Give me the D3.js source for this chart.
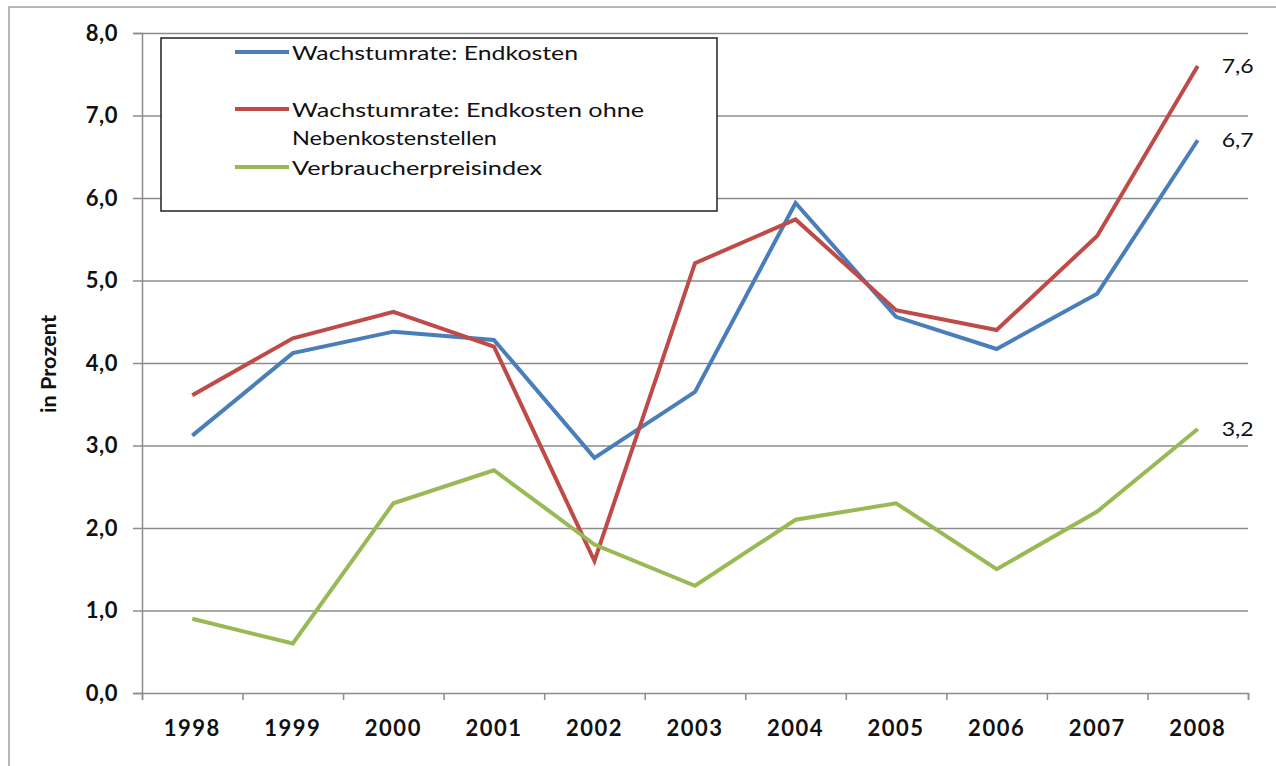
<!DOCTYPE html>
<html>
<head>
<meta charset="utf-8">
<script src="https://cdn.jsdelivr.net/npm/d3@7"></script>
<style>
  html, body { margin: 0; padding: 0; background: #fff; }
  svg { display: block; font-family: Lato, "Open Sans", sans-serif; }
</style>
</head>
<body>
<svg id="chart" width="1276" height="766"></svg>
<script>
// Jahre und Wachstumsraten in Prozent
const years = ["1998","1999","2000","2001","2002","2003","2004","2005","2006","2007","2008"];
const endkosten = [3.12, 4.12, 4.38, 4.28, 2.85, 3.65, 5.94, 4.56, 4.17, 4.84, 6.7];
const endkostenOhneNK = [3.61, 4.3, 4.62, 4.2, 1.6, 5.21, 5.74, 4.64, 4.4, 5.54, 7.6];
const vpi = [0.9, 0.6, 2.3, 2.7, 1.8, 1.3, 2.1, 2.3, 1.5, 2.2, 3.2];
const seriesNames = ["Wachstumrate: Endkosten", "Wachstumrate: Endkosten ohne|Nebenkostenstellen", "Verbraucherpreisindex"];
const seriesColors = ["#4a7ebb", "#be4b48", "#98b954"];
const yTicks = [0, 1, 2, 3, 4, 5, 6, 7, 8];
const endLabels = ["6,7", "7,6", "3,2"];

const series = [endkosten, endkostenOhneNK, vpi];

const svg = d3.select("#chart");
const plotLeft = 142, plotRight = 1248, plotTop = 33, plotBottom = 693;

// outer frame
svg.append("rect").attr("x", 9).attr("y", 7).attr("width", 1290).attr("height", 800)
  .attr("fill", "none").attr("stroke", "#a0a0a0").attr("stroke-width", 1.5);

const x = d3.scaleBand().domain(years).range([plotLeft, plotRight]).padding(0);
const y = d3.scaleLinear().domain([0, 8]).range([plotBottom, plotTop]);
const de = d3.formatLocale({decimal: ",", thousands: ".", grouping: [3], currency: ["", " €"]});
const fmt = de.format(".1f");

// horizontal gridlines
svg.append("g").attr("transform", `translate(${plotLeft},0)`)
  .call(d3.axisLeft(y).tickValues(yTicks.slice(1)).tickSize(-(plotRight - plotLeft)).tickFormat(""))
  .call(g => g.select(".domain").remove())
  .call(g => g.selectAll("line").attr("stroke", "#8c8c8c").attr("stroke-width", 1.5));

// y axis
svg.append("g").attr("transform", `translate(${plotLeft},0)`)
  .call(d3.axisLeft(y).tickValues(yTicks).tickSize(9).tickPadding(15).tickFormat(fmt))
  .call(g => g.select(".domain").attr("stroke", "#8c8c8c").attr("stroke-width", 1.5))
  .call(g => g.selectAll("line").attr("stroke", "#8c8c8c").attr("stroke-width", 1.5))
  .call(g => g.selectAll("text").attr("font-family", "Lato, sans-serif").attr("font-weight", 700)
    .attr("font-size", 22).attr("letter-spacing", 0.5).attr("fill", "#111"));

// x axis: boundary ticks
const xb = d3.scaleLinear().domain([0, years.length]).range([plotLeft, plotRight]);
svg.append("g").attr("transform", `translate(0,${plotBottom})`)
  .call(d3.axisBottom(xb).tickValues(d3.range(years.length + 1)).tickSize(7).tickFormat(""))
  .call(g => g.select(".domain").attr("stroke", "#8c8c8c").attr("stroke-width", 1.5))
  .call(g => g.selectAll("line").attr("stroke", "#8c8c8c").attr("stroke-width", 1.5));

// x axis: year labels
svg.append("g").attr("transform", `translate(0,${plotBottom})`)
  .call(d3.axisBottom(x).tickSize(0).tickPadding(27))
  .call(g => g.select(".domain").remove())
  .call(g => g.selectAll("text").attr("font-family", "Lato, sans-serif").attr("font-weight", 700)
    .attr("font-size", 22).attr("letter-spacing", 1.5).attr("fill", "#111"));

// y axis title
svg.append("text").attr("transform", "translate(56,364) rotate(-90)")
  .attr("text-anchor", "middle").attr("font-weight", 700).attr("font-size", 20)
  .attr("textLength", 98).attr("lengthAdjust", "spacingAndGlyphs")
  .attr("fill", "#111").text("in Prozent");

// lines
const line = d3.line().x((d, i) => x(years[i]) + x.bandwidth() / 2).y(d => y(d));
series.forEach((s, k) => {
  svg.append("path").datum(s).attr("d", line).attr("fill", "none")
    .attr("stroke", seriesColors[k]).attr("stroke-width", 4).attr("stroke-linejoin", "miter");
});

// end-of-line value labels
series.forEach((s, k) => {
  const last = s.length - 1;
  svg.append("text").attr("x", x(years[last]) + x.bandwidth() / 2 + 24).attr("y", y(s[last]) + 7)
    .attr("font-size", 19).attr("fill", "#111")
    .attr("textLength", 32).attr("lengthAdjust", "spacingAndGlyphs").text(endLabels[k]);
});

// legend
const lg = svg.append("g");
lg.append("rect").attr("x", 161).attr("y", 38).attr("width", 556).attr("height", 173)
  .attr("fill", "#fff").attr("stroke", "#222").attr("stroke-width", 1.5);
const rowY = [52, 109, 167];
const textWidths = [[286], [352, 205], [250]];
seriesNames.forEach((name, k) => {
  lg.append("line").attr("x1", 235).attr("x2", 289).attr("y1", rowY[k]).attr("y2", rowY[k])
    .attr("stroke", seriesColors[k]).attr("stroke-width", 4);
  name.split("|").forEach((part, j) => {
    lg.append("text").attr("x", 292).attr("y", rowY[k] + 8 + j * 28)
      .attr("font-size", 20).attr("fill", "#111")
      .attr("textLength", textWidths[k][j]).attr("lengthAdjust", "spacingAndGlyphs")
      .text(part);
  });
});
</script>
</body>
</html>
